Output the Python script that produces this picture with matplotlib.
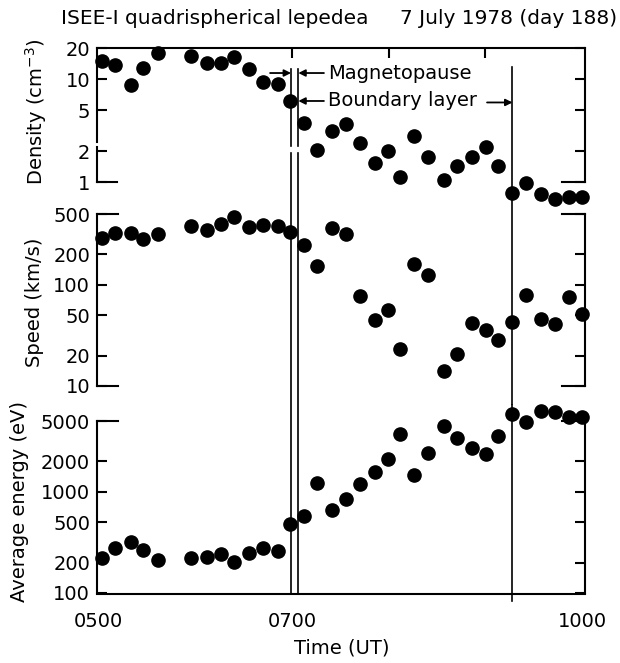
import matplotlib
matplotlib.use("Agg")
import matplotlib.pyplot as plt

# time of each sample (hours UT)
hours = [5.03, 5.17, 5.33, 5.46, 5.61, 5.95, 6.12, 6.27, 6.40, 6.55, 6.70, 6.85,
         6.98, 7.12, 7.26, 7.41, 7.56, 7.70, 7.86, 7.99, 8.12, 8.26, 8.41, 8.57,
         8.71, 8.86, 9.01, 9.13, 9.28, 9.42, 9.58, 9.72, 9.86, 10.00]
density = [15.2, 13.8, 8.8, 13.0, 18.1, 16.8, 14.5, 14.5, 16.6, 12.5, 9.35, 9.0,
           6.2, 3.74, 2.06, 3.15, 3.66, 2.39, 1.55, 2.01, 1.12, 2.82, 1.75, 1.05,
           1.45, 1.77, 2.22, 1.44, 0.78, 0.98, 0.76, 0.68, 0.71, 0.72]
speed = [287, 327, 327, 283, 317, 380, 347, 398, 464, 374, 389, 383,
         329, 247, 154, 366, 315, 77.6, 45.3, 56, 23.2, 162, 124, 14.1,
         20.9, 42, 36, 28.7, 42.4, 80, 45.6, 41.4, 75.9, 51.2]
energy = [221, 278, 319, 264, 214, 223, 226, 241, 202, 249, 281, 258,
          478, 577, 1225, 658, 845, 1190, 1553, 2090, 3718, 1460, 2425, 4460,
          3370, 2720, 2357, 3576, 5865, 4850, 6325, 6180, 5515, 5440]
boundary_times = [6.99, 7.065, 9.28]

dens_ticks = [1, 2, 5, 10, 20]
speed_ticks = [10, 20, 50, 100, 200, 500]
energy_ticks = [100, 200, 500, 1000, 2000, 5000]
time_ticks = [5, 7, 10]
time_labels = ["0500", "0700", "1000"]

plt.rcParams["font.family"] = "DejaVu Sans"
plt.rcParams["font.size"] = 14

W, H = 620, 663
fig = plt.figure(figsize=(W / 100, H / 100), dpi=100)


def px_axes(x0, y0, x1, y1):
    return fig.add_axes([x0 / W, 1 - y1 / H, (x1 - x0) / W, (y1 - y0) / H])


XLIM = (4.983, 10.03)
LW = 1.5
ax_d = px_axes(97, 48.3, 585, 214)
ax_s = px_axes(97, 214, 585, 405)
ax_e = px_axes(97, 405, 585, 594)

for ax, ticks, lim in [(ax_d, dens_ticks, (0.49, 20)),
                       (ax_s, speed_ticks, (6.49, 500)),
                       (ax_e, energy_ticks, (97.7, 7200))]:
    ax.set_yscale("log")
    ax.set_xlim(*XLIM)
    ax.set_ylim(*lim)
    ax.set_yticks(ticks, [str(t) for t in ticks])
    ax.minorticks_off()
    ax.tick_params(axis="y", which="major", direction="in", length=7, width=LW,
                   left=True, right=True, labelright=False, pad=5)
    for sp in ax.spines.values():
        sp.set_visible(False)
        sp.set_linewidth(LW)
    ax.patch.set_alpha(0)

# density panel: top spine, broken left axis, right bracket
ax_d.spines["top"].set_visible(True)
ax_d.set_xticks([7, 8, 9])
ax_d.tick_params(axis="x", direction="in", top=True, bottom=False, length=7,
                 width=LW, labeltop=False, labelbottom=False)
yt = ax_d.get_yaxis_transform()
ax_d.plot([0, 0], [20, 2.45], color="k", lw=LW, transform=yt, clip_on=False)
ax_d.plot([0, 0], [2.2, 1], color="k", lw=LW, transform=yt, clip_on=False)
ax_d.plot([0, 0.042], [1, 1], color="k", lw=LW, transform=yt, clip_on=False)
ax_d.plot([1, 1], [20, 1], color="k", lw=LW, transform=yt, clip_on=False)
ax_d.plot([0.953, 1], [1, 1], color="k", lw=LW, transform=yt, clip_on=False)

# speed panel: brackets
ax_s.tick_params(axis="x", bottom=False, labelbottom=False)
for side in ["left", "right"]:
    ax_s.spines[side].set_visible(True)
    ax_s.spines[side].set_bounds(10, 500)
yt = ax_s.get_yaxis_transform()
for v in [10, 500]:
    ax_s.plot([0, 0.043], [v, v], color="k", lw=LW, transform=yt, clip_on=False)
    ax_s.plot([0.953, 1], [v, v], color="k", lw=LW, transform=yt, clip_on=False)

# energy panel
for side in ["left", "right"]:
    ax_e.spines[side].set_visible(True)
    ax_e.spines[side].set_bounds(100, 5000)
ax_e.spines["bottom"].set_visible(True)
yt = ax_e.get_yaxis_transform()
ax_e.plot([0, 0.043], [5000, 5000], color="k", lw=LW, transform=yt, clip_on=False)
ax_e.plot([0.953, 1], [5000, 5000], color="k", lw=LW, transform=yt, clip_on=False)
ax_e.set_xticks(time_ticks, time_labels)
ax_e.tick_params(axis="x", length=0, pad=13)

# boundary lines
vl = dict(color="k", lw=1.2, zorder=2)
for i, t in enumerate(boundary_times):
    if i < 2:
        ax_d.axvline(t, ymin=0, ymax=0.368, **vl)
        ax_d.axvline(t, ymin=0.41, ymax=0.875, **vl)
        ax_e.axvline(t, ymin=0, ymax=1, **vl)
    else:
        ax_d.axvline(t, ymin=0, ymax=0.885, **vl)
        ax_e.axvline(t, ymin=-0.035, ymax=1, clip_on=False, **vl)
    ax_s.axvline(t, ymin=0, ymax=1, **vl)

# data
mk = dict(ls="none", marker="o", ms=9.5, color="k", clip_on=False, zorder=3)
ax_d.plot(hours, density, **mk)
ax_s.plot(hours, speed, **mk)
ax_e.plot(hours, energy, **mk)

# annotations
arr = dict(arrowstyle="-|>", lw=1.3, color="k", mutation_scale=10,
           shrinkA=0, shrinkB=0)
ax_d.annotate("", xy=(boundary_times[0], 11.5), xytext=(6.773, 11.5), arrowprops=arr)
ax_d.annotate("", xy=(boundary_times[1], 11.5), xytext=(7.33, 11.5), arrowprops=arr)
ax_d.text(7.375, 11.5, "Magnetopause", ha="left", va="center")
ax_d.annotate("", xy=(boundary_times[1], 6.15), xytext=(7.33, 6.15), arrowprops=arr)
ax_d.text(7.375, 6.15, "Boundary layer", ha="left", va="center")
ax_d.annotate("", xy=(boundary_times[2], 5.95), xytext=(9.017, 5.95), arrowprops=arr)

# labels
fig.text(61 / W, 1 - 18 / H, "ISEE-I quadrispherical lepedea", ha="left", va="center",
         fontsize=14.5)
fig.text(617 / W, 1 - 18 / H, "7 July 1978 (day 188)", ha="right", va="center",
         fontsize=14.5)
fig.text(36 / W, 1 - 112 / H, "Density (cm$^{-3}$)", rotation=90, ha="center", va="center")
fig.text(35 / W, 1 - 302 / H, "Speed (km/s)", rotation=90, ha="center", va="center")
fig.text(20 / W, 1 - 502 / H, "Average energy (eV)", rotation=90, ha="center", va="center")
fig.text(342 / W, 1 - 648 / H, "Time (UT)", ha="center", va="center")

fig.savefig("out.png", dpi=100)
